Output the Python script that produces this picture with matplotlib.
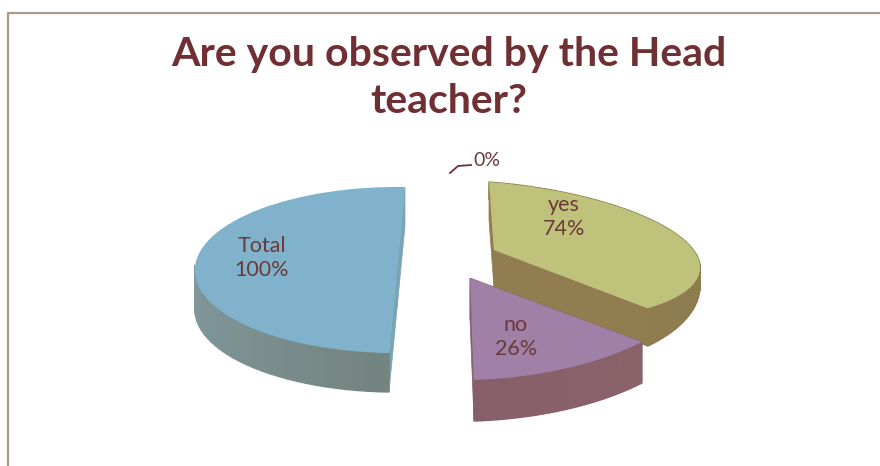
import numpy as np
import matplotlib
matplotlib.use('Agg')
import matplotlib.pyplot as plt
from matplotlib.colors import to_rgb
from matplotlib.transforms import Affine2D

# data
categories = ['yes', 'no', 'Total', '']
values = [74, 26, 100, 0]
top_colors = ['#bfc27a', '#a080a6', '#80b3cb']
wall_start = ['#8f7d50', '#875f6a', '#8fb2c0']
wall_end = ['#8a7a4c', '#8a626a', '#748480']
cut_colors = ['#917d50', '#875f68', '#79a3b6']

title = 'Are you observed by the Head\nteacher?'
text_color = '#6f2f33'

# unit circle -> pixel mapping for each slice (x vector, y vector, apex), fakes the perspective
maps = [((206, 16), (-5, -68), (494, 250)),
        ((232, -8), (-4, -102), (470, 278)),
        ((202, 3), (8, -83), (397, 270))]
depths = [38, 41, 39]
taper = [0.55, 0, 0]  # wall gets thinner towards the right on the yes slice
label_pos = [(564, 217), (516, 337), (262, 258)]


def to_px(m, t):
    t = np.radians(t)
    return (m[2][0] + m[0][0] * np.cos(t) + m[1][0] * np.sin(t),
            m[2][1] + m[0][1] * np.cos(t) + m[1][1] * np.sin(t))


fig = plt.figure(figsize=(8.8, 4.66), dpi=100)
ax = fig.add_axes([0, 0, 1, 1])
wedges, _ = ax.pie(values, startangle=90, counterclock=False, colors=top_colors + ['white'])
ax.set_aspect('auto')
ax.set_xlim(0, 880)
ax.set_ylim(466, 0)
ax.axis('off')

for i in range(3):
    w = wedges[i]
    m = maps[i]
    d = depths[i]
    # flat cut faces
    for t in [w.theta1, w.theta2]:
        x, y = to_px(m, t)
        ax.fill([m[2][0], x, x, m[2][0]], [m[2][1], y, y + d, m[2][1] + d],
                color=cut_colors[i], lw=0.5, zorder=2 + i)
    # outer wall, shaded in strips
    ts = np.linspace(w.theta1, w.theta2, 60)
    c0, c1 = np.array(to_rgb(wall_start[i])), np.array(to_rgb(wall_end[i]))
    for j in range(len(ts) - 1):
        x, y = to_px(m, ts[j:j + 2])
        if np.sin(np.radians(ts[j])) > 0.05 and i != 0:
            continue
        f = j / (len(ts) - 2)
        dd = d * (1 - taper[i] * np.clip((ts[j:j + 2] - w.theta1) / 43.2, 0, 1))
        ax.fill([x[0], x[1], x[1], x[0]], [y[0], y[1], y[1] + dd[1], y[0] + dd[0]],
                color=c0 + (c1 - c0) * f, lw=1, zorder=2 + i)
    w.set_transform(Affine2D.from_values(m[0][0], m[0][1], m[1][0], m[1][1], m[2][0], m[2][1]) + ax.transData)
    w.set_zorder(3 + i)
    w.set_edgecolor('none')
    ax.text(label_pos[i][0], label_pos[i][1], f'{categories[i]}\n{values[i]}%', ha='center', va='center',
            color='#6b3a3a', fontsize=15.5, family='Lato', linespacing=1.25, zorder=10)

# zero slice label
ax.text(487, 160, f'{values[3]}%', ha='center', va='center', color='#6b3a3a', fontsize=14, family='Lato')
ax.plot([450, 458, 471], [173, 166, 165], color=text_color, lw=1.3)

ax.text(449, 78, title, ha='center', va='center', color=text_color, fontsize=29.5, fontweight='bold',
        family='Lato', linespacing=1.35)

# frame
ax.plot([7.5, 7.5, 880], [466, 12.5, 12.5], color='#ab9b88', lw=1.6)

plt.savefig('out.png', dpi=100)
